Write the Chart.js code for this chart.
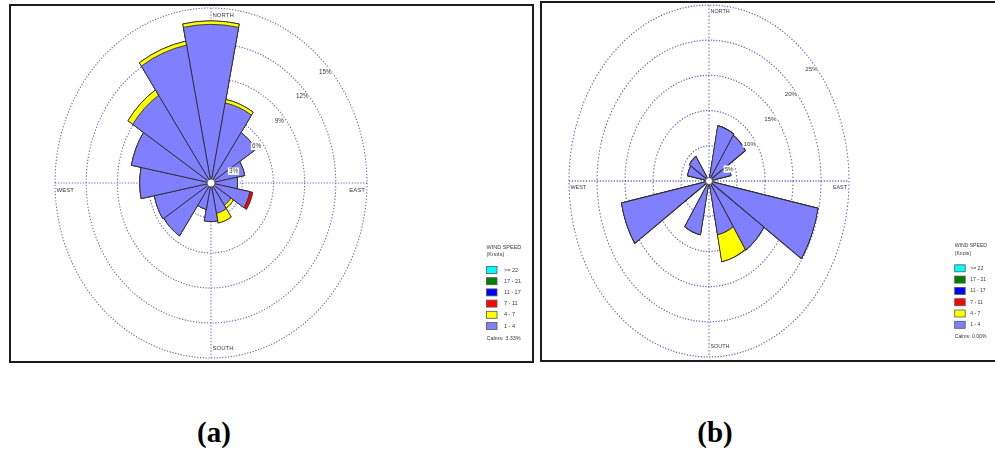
<!DOCTYPE html>
<html><head><meta charset="utf-8">
<script src="https://cdn.jsdelivr.net/npm/chart.js@4/dist/chart.umd.min.js"></script>
<style>
html,body{margin:0;padding:0;width:995px;height:453px;overflow:hidden;background:#fff;}
.box{position:absolute;border:2px solid #1c1c1c;box-sizing:border-box;}
canvas{position:absolute;}
.cap{position:absolute;font-family:"Liberation Serif","Times New Roman",serif;font-weight:bold;font-size:29px;line-height:29px;color:#000;transform:translateX(-50%);white-space:nowrap;}
</style></head><body>
<div class="box" style="left:9px;top:4px;width:525px;height:359px"></div>
<div class="box" style="left:540px;top:1px;width:470px;height:361px"></div>
<canvas id="ca" width="540" height="370" style="left:0;top:0;width:540px;height:370px"></canvas>
<canvas id="cb" width="460" height="370" style="left:535px;top:0;width:460px;height:370px"></canvas>
<div class="cap" style="left:214px;top:418px">(a)</div>
<div class="cap" style="left:715px;top:418px">(b)</div>
<script>
// ---- data ----
const directions = ['N','NNE','NE','ENE','E','ESE','SE','SSE','S','SSW','SW','WSW','W','WNW','NW','NNW'];
const legendClasses = ['>= 22','17 - 21','11 - 17','7 - 11','4 - 7','1 - 4'];
const legendColors  = ['#00ffff','#008000','#0000ff','#ff0000','#ffff00','#8080ff'];
const compassLabels = ['NORTH','EAST','SOUTH','WEST'];

// (a) frequency (%) per direction for each wind-speed class
const roseA_1to4  = [13.6, 7.0, 5.2, 3.3, 2.55, 3.8, 2.3, 2.65, 3.3, 2.3, 5.45, 5.55, 6.85, 7.8, 9.05, 12.05];
const roseA_4to7  = [0.3, 0.3, 0, 0, 0, 0, 0.3, 0.85, 0, 0, 0, 0, 0, 0, 0.55, 0.35];
const roseA_7to11 = [0, 0, 0, 0, 0, 0.3, 0, 0, 0, 0, 0, 0, 0, 0, 0, 0];
const roseA_ticks = [3, 6, 9, 12, 15];
const roseA_tickLabels = ['3%','6%','9%','12%','15%'];
const roseA_calms = 'Calms: 3.33%';

// (b)
const roseB_1to4  = [0, 8.0, 7.8, 4.0, 0, 19.85, 11.8, 7.8, 0, 7.8, 0, 15.95, 0, 3.9, 4.2, 0];
const roseB_4to7  = [0, 0, 0, 0, 0, 0, 0, 3.9, 0, 0, 0, 0, 0, 0, 0, 0];
const roseB_7to11 = [0, 0, 0, 0, 0, 0, 0, 0, 0, 0, 0, 0, 0, 0, 0, 0];
const roseB_ticks = [5, 10, 15, 20, 25];
const roseB_tickLabels = ['5%','10%','15%','20%','25%'];
const roseB_calms = 'Calms: 0.00%';

const seriesColors = ['#8080ff', '#ffff00', '#ff0000'];

// ---- drawing ----
const FONT = '"Liberation Sans", Arial, sans-serif';
const gridColor = '#6262c4';

const rosePlugin = {
  id: 'rose',
  beforeDraw(chart, args, o) {
    const s = chart.scales.r, ctx = chart.ctx;
    ctx.save();
    ctx.translate(0, s.yCenter);
    ctx.scale(1, o.k);
    ctx.translate(0, -s.yCenter);
  },
  beforeDatasetsDraw(chart, args, o) {
    const s = chart.scales.r, ctx = chart.ctx;
    const cx = s.xCenter, cy = s.yCenter, R = s.drawingArea;
    ctx.save();
    ctx.strokeStyle = gridColor; ctx.lineWidth = 1; ctx.setLineDash([1.2, 1.6]);
    ctx.beginPath();
    ctx.moveTo(cx - R, cy); ctx.lineTo(cx + R, cy);
    ctx.moveTo(cx, cy - R); ctx.lineTo(cx, cy + R);
    ctx.stroke();
    ctx.restore();
  },
  afterDatasetsDraw(chart) {
    chart.ctx.restore();
  },
  afterDraw(chart, args, o) {
    const s = chart.scales.r, ctx = chart.ctx;
    const cx = s.xCenter, cy = s.yCenter, rx = s.drawingArea, ry = rx * o.k;
    // centre
    ctx.save();
    ctx.beginPath(); ctx.arc(cx, cy, o.hole, 0, Math.PI * 2);
    ctx.fillStyle = '#fff'; ctx.fill();
    ctx.strokeStyle = '#444'; ctx.lineWidth = 0.8; ctx.stroke();
    // tick labels
    ctx.font = o.tickFont + 'px ' + FONT;
    ctx.textBaseline = 'middle'; ctx.textAlign = 'center';
    o.ticks.forEach((v, i) => {
      const d = s.getDistanceFromCenterForValue(v);
      const x = cx + 0.736 * d - 0.5, y = cy - 0.709 * d * o.k + 13;
      const t = o.tickLabels[i];
      const w = ctx.measureText(t).width;
      ctx.fillStyle = '#fff';
      ctx.fillRect(x - w / 2 - 1, y - o.tickFont / 2 - 0.5, w + 2, o.tickFont + 1);
      ctx.fillStyle = '#3a3a3a';
      ctx.fillText(t, x, y);
    });
    // compass labels
    ctx.font = o.dirFont + 'px ' + FONT;
    ctx.fillStyle = '#3a3a3a';
    ctx.textAlign = 'left';
    ctx.fillText(compassLabels[0], cx + 1.5, cy - ry + 7);
    ctx.fillText(compassLabels[2], cx + 1.5, cy + ry - 10);
    ctx.fillText(compassLabels[3], cx - rx + 1.5, cy + 7);
    ctx.textAlign = 'right';
    ctx.fillText(compassLabels[1], cx + rx - 2, cy + 7);
    // legend
    const L = o.legend;
    ctx.font = o.legFont + 'px ' + FONT;
    ctx.textAlign = 'left';
    ctx.fillStyle = '#3a3a3a';
    ctx.fillText('WIND SPEED', L.x, L.t1);
    ctx.fillText('(Knots)', L.x, L.t2);
    legendClasses.forEach((lab, i) => {
      const y = L.row0 + i * L.dy;
      ctx.fillStyle = legendColors[i];
      ctx.fillRect(L.x, y - 3.5, 10.5, 7);
      ctx.strokeStyle = '#555'; ctx.lineWidth = 0.8;
      ctx.strokeRect(L.x, y - 3.5, 10.5, 7);
      ctx.fillStyle = '#3a3a3a';
      ctx.fillText(lab, L.x + L.tx, y);
    });
    ctx.fillText(o.calms, L.x, L.calmY);
    ctx.restore();
  }
};

function windRose(id, series, max, step, pad, opts) {
  const datasets = [];
  let cum = directions.map(() => 0);
  series.forEach((vals, i) => {
    cum = cum.map((c, j) => c + vals[j]);
    datasets.push({
      data: cum.slice(),
      backgroundColor: seriesColors[i],
      borderColor: '#2b2b2b',
      borderWidth: 0.8
    });
  });
  return new Chart(document.getElementById(id), {
    type: 'polarArea',
    data: { labels: directions, datasets },
    options: {
      responsive: false, animation: false, events: [],
      layout: { padding: pad },
      plugins: { legend: { display: false }, tooltip: { enabled: false }, rose: opts },
      scales: {
        r: {
          min: 0, max: max, startAngle: -11.25,
          ticks: { display: false, stepSize: step },
          grid: { circular: true, color: gridColor, lineWidth: 1 },
          border: { dash: [1.2, 1.6] },
          angleLines: { display: false },
          pointLabels: { display: false }
        }
      }
    },
    plugins: [rosePlugin]
  });
}

windRose('ca', [roseA_1to4, roseA_4to7, roseA_7to11], 15, 3,
  { left: 55, right: 173, top: 8, bottom: 12 },
  { k: 175 / 156, hole: 4, ticks: roseA_ticks, tickLabels: roseA_tickLabels, tickFont: 6.3, dirFont: 6,
    legFont: 5.5, calms: roseA_calms,
    legend: { x: 486.5, t1: 247.5, t2: 254.5, row0: 270, dy: 11.2, tx: 17.5, calmY: 338.5 } });

windRose('cb', [roseB_1to4, roseB_4to7, roseB_7to11], 25, 5,
  { left: 34, right: 146, top: 5, bottom: 13 },
  { k: 176 / 140, hole: 3.5, ticks: roseB_ticks, tickLabels: roseB_tickLabels, tickFont: 6.2, dirFont: 5.4,
    legFont: 5.1, calms: roseB_calms,
    legend: { x: 419.7, t1: 245.7, t2: 254, row0: 268.3, dy: 11.3, tx: 15.5, calmY: 336.7 } });
</script>
</body></html>
